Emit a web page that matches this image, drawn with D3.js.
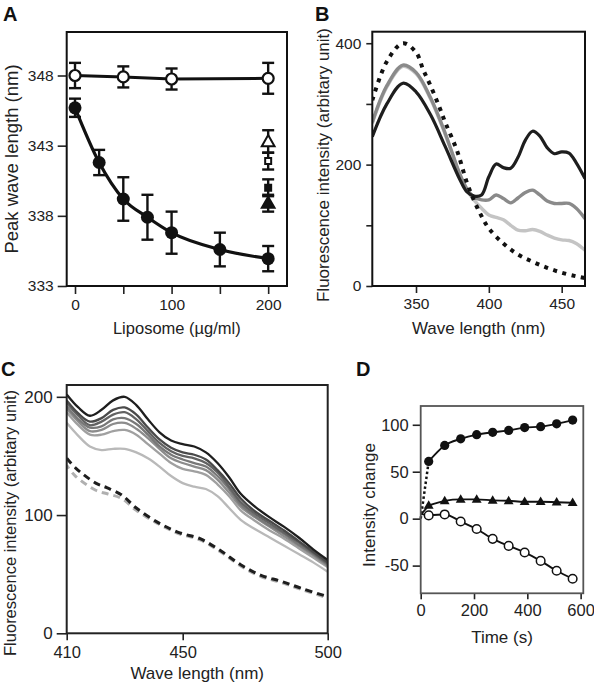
<!DOCTYPE html>
<html><head><meta charset="utf-8">
<script src="https://cdn.jsdelivr.net/npm/d3@7"></script>
<style>body{margin:0;background:#fff}</style>
</head><body><svg id="c" width="594" height="683" xmlns="http://www.w3.org/2000/svg"></svg>
<script>
// ---------- Panel A ----------
const aOpenX = [0, 50, 100, 200];
const aOpenY = [348.0, 347.9, 347.75, 347.8];
const aOpenErr = [0.9, 0.75, 0.75, 1.1];
const aFilledX = [0, 25, 50, 75, 100, 150, 200];
const aFilledY = [345.7, 341.8, 339.2, 337.9, 336.8, 335.6, 334.95];
const aFilledErr = [0.65, 0.9, 1.55, 1.6, 1.5, 1.2, 0.9];
const aExtraX = [200, 200, 200, 200];
const aExtraY = [343.3, 341.9, 340.0, 338.9];
const aExtraErr = [0.8, 0.6, 0.6, 0.6];
const aExtraShape = ["openTri", "openSq", "filledSq", "filledTri"];
const aYTicks = [333, 338, 343, 348];
const aXTicks = [0, 50, 100, 150, 200];
const aXLabels = [0, 100, 200];

// ---------- Panel B ----------
const bWave  = [320,330,341,350,360,370,380,385,390,395,400,405,410,415,420,425,430,435,440,445,450,455,460,466];
const bDark  = [246,300,334,320,282,230,176,155,148,150,180,201,195,194,212,240,255,247,228,218,221,219,203,177];
const bGray  = [270,330,364,352,310,252,185,160,146,142,142,150,144,137,145,154,158,150,140,136,136,136,128,111];
const bLight = [268,328,362,350,308,250,184,158,141,128,117,113,109,100,92,91,93,90,84,79,76,75,70,59];
const bDotWave = [320,330,341,350,355,360,366,370,378,385,390,395,400,410,420,430,440,450,460,466];
const bDot     = [306,370,400,385,356,330,295,270,224,170,140,115,95,70,52,40,30,22,16,13];
const bYTicks = [0, 100, 200, 300, 400];
const bYLabels = [0, 200, 400];
const bXTicks = [350, 400, 450];

// ---------- Panel C ----------
const cWave = [410,414,418,422,426,430,434,438,442,446,450,454,458,462,466,470,475,480,485,490,495,500];
const c1 = [202,191,184,189,197,200,193,181,170,163,160,158,153,144,132,118,107,98,90,81,71,62];
const c2 = [197,186,179,182,189,191,185,174,164,157,153,151,147,138,127,114,103,95,87,78,69,60];
const c3 = [195,184,176,179,185,187,181,171,161,154,150,148,144,136,124,111,101,93,85,77,68,59];
const c4 = [192,181,174,175,181,182,177,168,158,151,147,144,141,133,122,109,99,91,84,75,67,58];
const c5 = [190,179,171,172,177,178,173,165,156,148,144,141,138,130,119,107,98,90,82,74,66,57];
const c6 = [187,176,168,168,171,172,168,160,152,144,139,137,134,126,116,104,95,87,80,72,64,56];
const c7 = [178,167,158,155,156,156,153,148,141,133,127,124,122,116,106,96,88,81,74,67,60,52];
const cDashWave  = [410,413,420,424,429,434,442,449,456,463,470,477,484,491,500];
const cDashBlack = [148,140,127,123,117,106,93,85,80,70,58,49,44,38,31];
const cDashGray  = [142,133,121,118,114,104,92,84,79,69,57,48,43,37,30];
const cYTicks = [0, 100, 200];
const cXTicks = [410, 450, 500];

// ---------- Panel D ----------
const dTime   = [30,90,150,210,270,330,390,450,510,570];
const dFilled = [61,78,85,89.5,92,94,97,98,101,105];
const dTri    = [14,19,20.5,20.5,19.5,19,18,18,17.5,17];
const dOpen   = [3.5,4.5,-3,-11,-21.5,-29,-36,-45,-55.5,-64];
const dStartTime = 0;
const dStartFilled = 0, dStartTri = 4, dStartOpen = 5;
const dYTicks = [-50, 0, 50, 100];
const dXTicks = [0, 200, 400, 600];

// ================= drawing =================
const FONT = '"Liberation Sans", Arial, Helvetica, sans-serif';
const svg = d3.select("#c");
svg.append("rect").attr("width",594).attr("height",683).attr("fill","#fff");

function axis(g, scale, orient, vals, labeled, size, pad, fs) {
  const ax = (orient === "left" ? d3.axisLeft : d3.axisBottom)(scale)
    .tickValues(vals).tickSize(size).tickPadding(pad)
    .tickFormat(d => labeled.includes(d) ? String(d) : "");
  g.call(ax);
  g.select(".domain").remove();
  g.selectAll("line").attr("stroke", "#222").attr("stroke-width", 1.6);
  g.selectAll("text").attr("font-size", fs).attr("font-family", FONT).attr("fill", "#222");
}
function frame(x0, y0, x1, y1, col, w) {
  svg.append("rect").attr("x", x0).attr("y", y0).attr("width", x1 - x0).attr("height", y1 - y0)
    .attr("fill", "none").attr("stroke", col).attr("stroke-width", w);
}
function title(x, y, txt, fs, rot) {
  const t = svg.append("text").attr("x", x).attr("y", y).attr("text-anchor", "middle")
    .attr("dominant-baseline", "central").attr("font-family", FONT).attr("font-size", fs)
    .attr("fill", "#222").text(txt);
  if (rot) t.attr("transform", `rotate(-90,${x},${y})`);
}
function letter(x, y, txt) {
  svg.append("text").attr("x", x).attr("y", y).attr("font-family", FONT).attr("font-weight", "bold")
    .attr("font-size", 20).attr("fill", "#111").text(txt);
}
function clip(id, x0, y0, x1, y1) {
  svg.append("clipPath").attr("id", id).append("rect").attr("x", x0).attr("y", y0)
    .attr("width", x1 - x0).attr("height", y1 - y0);
}

// ---------- A ----------
{
  const L = 66.7, R = 287, T = 32, B = 286;
  const x = d3.scaleLinear().domain([-8.6, 219.5]).range([L, R]);
  const y = d3.scaleLinear().domain([333, 351.1]).range([B, T]);
  const gy = svg.append("g").attr("transform", `translate(${L},0)`);
  axis(gy, y, "left", aYTicks, aYTicks, 9, 4, 15.5);
  const gx = svg.append("g").attr("transform", `translate(0,${B})`);
  axis(gx, x, "bottom", aXTicks, aXLabels, 8, 5, 15.5);
  frame(L, T, R, B, "#111", 2);
  const g = svg.append("g");
  const line = d3.line().x(d => x(d[0])).y(d => y(d[1]));
  g.append("path").datum(aOpenX.map((v, i) => [v, aOpenY[i]]))
    .attr("d", line).attr("fill", "none").attr("stroke", "#111").attr("stroke-width", 3);
  g.append("path").datum(aFilledX.map((v, i) => [v, aFilledY[i]]))
    .attr("d", line.curve(d3.curveMonotoneX)).attr("fill", "none").attr("stroke", "#111").attr("stroke-width", 3.2);
  function ebar(xv, yv, e) {
    const cx = x(xv), c = 6;
    g.append("line").attr("x1", cx).attr("x2", cx).attr("y1", y(yv + e)).attr("y2", y(yv - e)).attr("stroke", "#111").attr("stroke-width", 2.4);
    [yv + e, yv - e].forEach(v => g.append("line").attr("x1", cx - c).attr("x2", cx + c).attr("y1", y(v)).attr("y2", y(v)).attr("stroke", "#111").attr("stroke-width", 2.4));
  }
  aOpenX.forEach((v, i) => ebar(v, aOpenY[i], aOpenErr[i]));
  aFilledX.forEach((v, i) => ebar(v, aFilledY[i], aFilledErr[i]));
  aExtraX.forEach((v, i) => ebar(v, aExtraY[i], aExtraErr[i]));
  aOpenX.forEach((v, i) => g.append("circle").attr("cx", x(v)).attr("cy", y(aOpenY[i])).attr("r", 5.5).attr("fill", "#fff").attr("stroke", "#111").attr("stroke-width", 2.2));
  aFilledX.forEach((v, i) => g.append("circle").attr("cx", x(v)).attr("cy", y(aFilledY[i])).attr("r", 6.5).attr("fill", "#111"));
  aExtraX.forEach((v, i) => {
    const s = aExtraShape[i];
    const tri = s.endsWith("Tri");
    const sym = d3.symbol().type(tri ? d3.symbolTriangle : d3.symbolSquare).size(tri ? 70 : 36);
    g.append("path").attr("d", sym()).attr("transform", `translate(${x(v)},${y(aExtraY[i]) + (tri ? 1 : 0)})`)
      .attr("fill", s.startsWith("open") ? "#fff" : "#111").attr("stroke", "#111").attr("stroke-width", 2);
  });
  title(11, 159, "Peak wave length (nm)", 18.5, true);
  title((L + R) / 2, 328, "Liposome (µg/ml)", 16.5, false);
  letter(3, 21, "A");
}

// ---------- B ----------
{
  const L = 372.3, R = 585, T = 31.7, B = 286;
  const x = d3.scaleLinear().domain([320, 466]).range([L, R]);
  const y = d3.scaleLinear().domain([0, 419]).range([B, T]);
  const gy = svg.append("g").attr("transform", `translate(${L},0)`);
  axis(gy, y, "left", bYTicks, bYLabels, 6, 5, 15.5);
  const gx = svg.append("g").attr("transform", `translate(0,${B})`);
  axis(gx, x, "bottom", bXTicks, bXTicks, 7, 5, 15.5);
  clip("clipB", L, T, R, B);
  const g = svg.append("g").attr("clip-path", "url(#clipB)");
  const line = d3.line().x(d => x(d[0])).y(d => y(d[1])).curve(d3.curveCatmullRom);
  const draw = (xs, ys, col, w, dash) => {
    const p = g.append("path").datum(xs.map((v, i) => [v, ys[i]])).attr("d", line)
      .attr("fill", "none").attr("stroke", col).attr("stroke-width", w);
    if (dash) p.attr("stroke-dasharray", dash);
  };
  draw(bWave, bLight, "#c4c4c4", 3.4);
  draw(bWave, bGray, "#8a8a8a", 3.4);
  draw(bWave, bDark, "#1e1e1e", 3.2);
  draw(bDotWave, bDot, "#111", 4, "4,5.5");
  frame(L, T, R, B, "#111", 2);
  title(323, 165, "Fluorescence intensity (arbitary unit)", 17, true);
  title((L + R) / 2, 328, "Wave length (nm)", 17, false);
  letter(315, 21, "B");
}

// ---------- C ----------
{
  const L = 66.7, R = 327.7, T = 385, B = 633.3;
  const x = d3.scaleLinear().domain([410, 500]).range([L, R]);
  const y = d3.scaleLinear().domain([0, 210]).range([B, T]);
  const gy = svg.append("g").attr("transform", `translate(${L},0)`);
  axis(gy, y, "left", cYTicks, cYTicks, 10, 4, 17);
  const gx = svg.append("g").attr("transform", `translate(0,${B})`);
  axis(gx, x, "bottom", cXTicks, cXTicks, 7, 6, 16.5);
  clip("clipC", L, T, R, B);
  const g = svg.append("g").attr("clip-path", "url(#clipC)");
  const line = d3.line().x(d => x(d[0])).y(d => y(d[1])).curve(d3.curveCatmullRom);
  const series = [c7, c6, c5, c4, c3, c2, c1];
  const cols = ["#b9b9b9", "#a0a0a0", "#8c8c8c", "#787878", "#626262", "#4a4a4a", "#1e1e1e"];
  series.forEach((s, k) => g.append("path").datum(cWave.map((v, i) => [v, s[i]])).attr("d", line)
    .attr("fill", "none").attr("stroke", cols[k]).attr("stroke-width", 2.3));
  g.append("path").datum(cDashWave.map((v, i) => [v, cDashGray[i]])).attr("d", line)
    .attr("fill", "none").attr("stroke", "#b0b0b0").attr("stroke-width", 3).attr("stroke-dasharray", "7,5").attr("stroke-dashoffset", 3);
  g.append("path").datum(cDashWave.map((v, i) => [v, cDashBlack[i]])).attr("d", line)
    .attr("fill", "none").attr("stroke", "#1e1e1e").attr("stroke-width", 3).attr("stroke-dasharray", "7,5");
  frame(L, T, R, B, "#222", 2);
  title(10, 523, "Fluorescence intensity (arbitary unit)", 16.5, true);
  title((L + R) / 2, 673, "Wave length (nm)", 17, false);
  letter(1, 376, "C");
}

// ---------- D ----------
{
  const L = 420.7, R = 583.3, T = 406, B = 593.3;
  const x = d3.scaleLinear().domain([0, 610]).range([L, R]);
  const y = d3.scaleLinear().domain([-79.5, 120]).range([B, T]);
  const gy = svg.append("g").attr("transform", `translate(${L},0)`);
  axis(gy, y, "left", dYTicks, dYTicks, 8, 4, 16.5);
  const gx = svg.append("g").attr("transform", `translate(0,${B})`);
  axis(gx, x, "bottom", dXTicks, dXTicks, 6, 5, 16.5);
  const g = svg.append("g");
  const line = d3.line().x(d => x(d[0])).y(d => y(d[1]));
  const mk = (ys) => dTime.map((v, i) => [v, ys[i]]);
  g.append("path").datum([[dStartTime, dStartFilled], [dTime[0], dFilled[0]]]).attr("d", line)
    .attr("fill", "none").attr("stroke", "#111").attr("stroke-width", 2.5).attr("stroke-dasharray", "2.5,2.5");
  g.append("path").datum([[dStartTime, dStartTri], [dTime[0], dTri[0]]]).attr("d", line)
    .attr("fill", "none").attr("stroke", "#111").attr("stroke-width", 1.8);
  g.append("path").datum([[dStartTime, dStartOpen], [dTime[0], dOpen[0]]]).attr("d", line)
    .attr("fill", "none").attr("stroke", "#111").attr("stroke-width", 1.8);
  const sm = d3.line().x(d => x(d[0])).y(d => y(d[1])).curve(d3.curveMonotoneX);
  [dFilled, dTri, dOpen].forEach(s => g.append("path").datum(mk(s)).attr("d", sm)
    .attr("fill", "none").attr("stroke", "#111").attr("stroke-width", 1.9));
  dTime.forEach((t, i) => {
    g.append("circle").attr("cx", x(t)).attr("cy", y(dFilled[i])).attr("r", 4.6).attr("fill", "#111");
    g.append("path").attr("d", d3.symbol().type(d3.symbolTriangle).size(42)())
      .attr("transform", `translate(${x(t)},${y(dTri[i]) + 0.5})`).attr("fill", "#111");
    g.append("circle").attr("cx", x(t)).attr("cy", y(dOpen[i])).attr("r", 4.3).attr("fill", "#fff")
      .attr("stroke", "#111").attr("stroke-width", 1.5);
  });
  frame(L, T, R, B, "#555", 1.8);
  title(369, 505, "Intensity change", 17, true);
  title((L + R) / 2, 637, "Time (s)", 17, false);
  letter(356, 376, "D");
}
</script></body></html>
